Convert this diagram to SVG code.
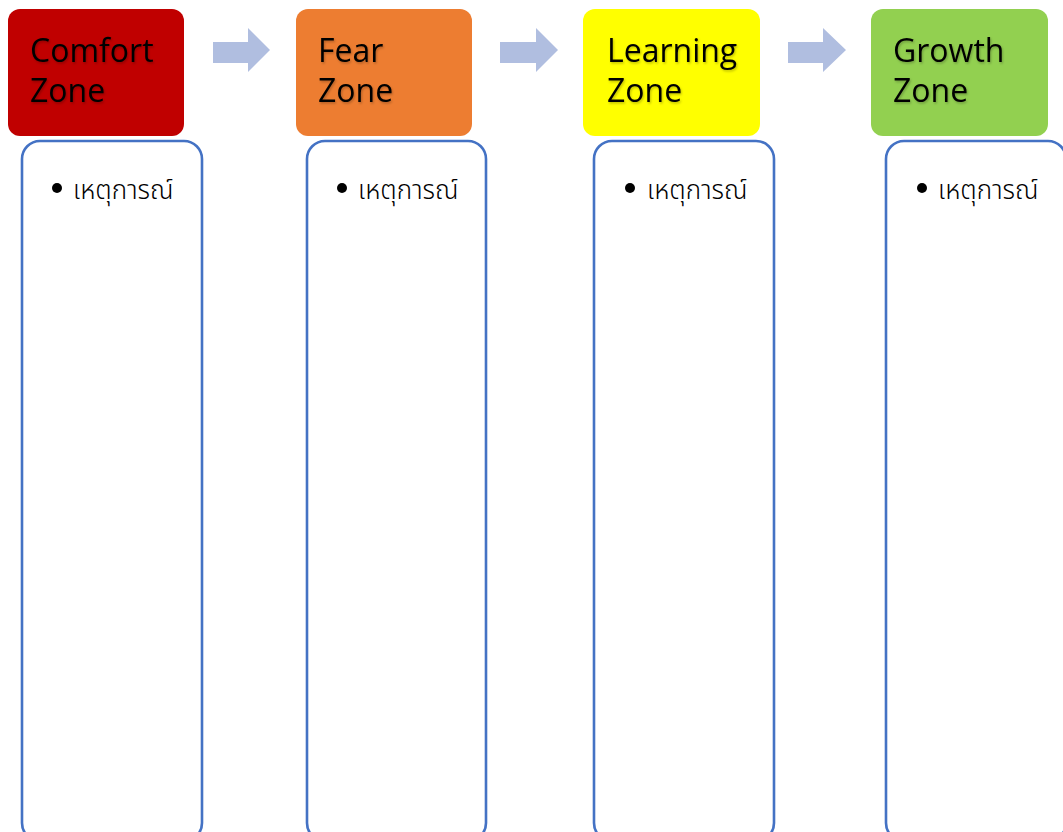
<svg xmlns="http://www.w3.org/2000/svg" width="1063" height="832" viewBox="0 0 1063 832">
<defs>
<style>
.hdr{stroke:none}
.title{font-family:"Open Sans","Liberation Sans",sans-serif;font-size:32px;fill:#000}
.body{fill:#fff;stroke:#4472C4;stroke-width:2.6}
.item{font-family:"Noto Sans Thai","Noto Sans","DejaVu Sans","Liberation Sans",sans-serif;font-size:26px;font-weight:300;fill:#000}
.arrow{fill:#B0BEE0}
</style>
<filter id="sh" x="-10%" y="-10%" width="120%" height="130%">
<feDropShadow dx="1" dy="1.5" stdDeviation="1" flood-color="#000" flood-opacity="0.25"/>
</filter>
</defs>
<rect width="1063" height="832" fill="#fff"/>
<g id="connectors">
<path class="arrow" d="M213,42 H248 V28 L270,50 L248,72 V63 H213 Z"/>
<path class="arrow" d="M500,42 H536 V28 L558,50 L536,72 V63 H500 Z"/>
<path class="arrow" d="M788,42 H823 V28 L846,50 L823,72 V63 H788 Z"/>
</g>
<g id="comfort">
<rect class="hdr" x="8" y="9" width="176" height="127" rx="12" fill="#C00000"/>
<text class="title" filter="url(#sh)"><tspan x="30" y="62">Comfort</tspan><tspan x="30" y="102">Zone</tspan></text>
</g>
<g id="comfort-list">
<rect class="body" x="22" y="141" width="180" height="700" rx="18"/>
<circle cx="57" cy="188" r="5" fill="#000"/>
<text class="item" x="73" y="199">เหตุการณ์</text>
</g>
<g id="fear">
<rect class="hdr" x="296" y="9" width="176" height="127" rx="12" fill="#ED7D31"/>
<text class="title" filter="url(#sh)"><tspan x="318" y="62">Fear</tspan><tspan x="318" y="102">Zone</tspan></text>
</g>
<g id="fear-list">
<rect class="body" x="307" y="141" width="179" height="700" rx="18"/>
<circle cx="342" cy="188" r="5" fill="#000"/>
<text class="item" x="358" y="199">เหตุการณ์</text>
</g>
<g id="learning">
<rect class="hdr" x="583" y="9" width="177" height="127" rx="12" fill="#FFFF00"/>
<text class="title" filter="url(#sh)"><tspan x="607" y="62">Learning</tspan><tspan x="607" y="102">Zone</tspan></text>
</g>
<g id="learning-list">
<rect class="body" x="594" y="141" width="180" height="700" rx="18"/>
<circle cx="630" cy="188" r="5" fill="#000"/>
<text class="item" x="647" y="199">เหตุการณ์</text>
</g>
<g id="growth">
<rect class="hdr" x="871" y="9" width="177" height="127" rx="12" fill="#92D050"/>
<text class="title" filter="url(#sh)"><tspan x="893" y="62">Growth</tspan><tspan x="893" y="102">Zone</tspan></text>
</g>
<g id="growth-list">
<rect class="body" x="886" y="141" width="180" height="700" rx="18"/>
<circle cx="922" cy="188" r="5" fill="#000"/>
<text class="item" x="938" y="199">เหตุการณ์</text>
</g>
</svg>
